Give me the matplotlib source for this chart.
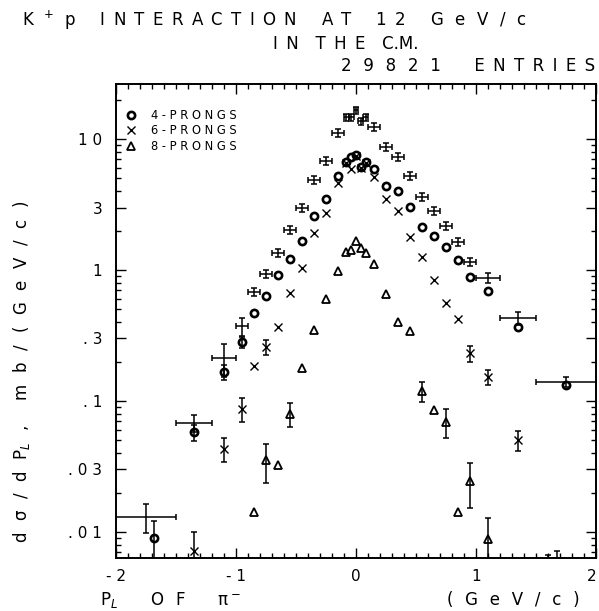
import numpy as np
import matplotlib
matplotlib.use("Agg")
import matplotlib.pyplot as plt
from matplotlib.ticker import FixedLocator, LogLocator, MultipleLocator, NullFormatter
from matplotlib.lines import Line2D

# all prongs (error crosses)
total_x = [-1.75, -1.35, -1.10, -0.95, -0.85, -0.75, -0.65, -0.55, -0.45, -0.35,
           -0.25, -0.15, -0.08, -0.04, 0.0, 0.04, 0.08, 0.15, 0.25, 0.35,
           0.45, 0.55, 0.65, 0.75, 0.85, 0.95, 1.10, 1.35, 1.75]
total_y = [0.013, 0.068, 0.213, 0.374, 0.68, 0.93, 1.35, 2.02, 2.97, 4.87,
           6.8, 11.1, 14.7, 14.7, 16.6, 13.7, 14.7, 12.3, 8.7, 7.3,
           5.2, 3.6, 2.82, 2.17, 1.64, 1.15, 0.87, 0.43, 0.14]
total_xerr = [0.25, 0.15, 0.10, 0.05, 0.05, 0.05, 0.05, 0.05, 0.05, 0.05,
              0.05, 0.05, 0.02, 0.02, 0.02, 0.02, 0.02, 0.05, 0.05, 0.05,
              0.05, 0.05, 0.05, 0.05, 0.05, 0.05, 0.10, 0.15, 0.25]
total_rel = [0.25, 0.15, 0.28, 0.16, 0.07, 0.07, 0.07, 0.07, 0.07, 0.07,
             0.07, 0.07, 0.06, 0.06, 0.06, 0.06, 0.06, 0.07, 0.07, 0.07,
             0.07, 0.07, 0.07, 0.07, 0.07, 0.07, 0.09, 0.11, 0.09]

# 4-prongs
p4_x = [-1.68, -1.35, -1.10, -0.95, -0.85, -0.75, -0.65, -0.55, -0.45, -0.35,
        -0.25, -0.15, -0.08, -0.04, 0.0, 0.04, 0.08, 0.15, 0.25, 0.35,
        0.45, 0.55, 0.65, 0.75, 0.85, 0.95, 1.10, 1.35, 1.75]
p4_y = [0.009, 0.058, 0.166, 0.28, 0.47, 0.63, 0.92, 1.21, 1.66, 2.58,
        3.48, 5.2, 6.7, 7.3, 7.55, 6.1, 6.7, 5.9, 4.4, 4.0,
        3.03, 2.13, 1.82, 1.5, 1.19, 0.885, 0.69, 0.367, 0.132]
p4_rel = [0.35, 0.14, 0.13, 0.10, 0, 0, 0, 0, 0, 0,
          0, 0, 0, 0, 0, 0, 0, 0, 0, 0,
          0, 0, 0, 0, 0, 0, 0, 0, 0]

# 6-prongs
p6_x = [-1.35, -1.10, -0.95, -0.85, -0.75, -0.65, -0.55, -0.45, -0.35, -0.25,
        -0.15, -0.08, -0.04, 0.0, 0.04, 0.08, 0.15, 0.25, 0.35, 0.45,
        0.55, 0.65, 0.75, 0.85, 0.95, 1.10, 1.35]
p6_y = [0.0071, 0.043, 0.087, 0.185, 0.258, 0.37, 0.67, 1.03, 1.91, 2.72,
        4.6, 6.6, 5.9, 7.4, 6.0, 6.6, 5.1, 3.48, 2.82, 1.79,
        1.26, 0.84, 0.56, 0.42, 0.232, 0.152, 0.05]
p6_rel = [0.40, 0.21, 0.21, 0, 0.13, 0, 0, 0, 0, 0,
          0, 0, 0, 0, 0, 0, 0, 0, 0, 0,
          0, 0, 0, 0, 0.14, 0.13, 0.17]

# 8-prongs
p8_x = [-0.85, -0.75, -0.65, -0.55, -0.45, -0.35, -0.25, -0.15, -0.08, -0.04,
        0.0, 0.04, 0.08, 0.15, 0.25, 0.35, 0.45, 0.55, 0.65, 0.75,
        0.85, 0.95, 1.10]
p8_y = [0.0142, 0.0355, 0.0324, 0.080, 0.179, 0.348, 0.60, 0.98, 1.37, 1.42,
        1.66, 1.47, 1.35, 1.11, 0.66, 0.40, 0.342, 0.119, 0.085, 0.069,
        0.0142, 0.0245, 0.00885]
p8_rel = [0, 0.33, 0, 0.21, 0, 0, 0, 0, 0, 0,
          0, 0, 0, 0, 0, 0, 0, 0.18, 0, 0.25,
          0, 0.38, 0.45]

# points below the scale, only the top of the error bar shows
off_x = [1.60, 1.675]
off_top = [0.0067, 0.0071]

ytick_vals = [0.01, 0.03, 0.1, 0.3, 1, 3, 10]
ytick_labels = [". 0 1", ". 0 3", ". 1", ". 3", "1", "3", "1 0"]
xtick_vals = [-2, -1, 0, 1, 2]
xtick_labels = ["- 2", "- 1", "0", "1", "2"]

S = "\u2002"       # letter gap, plotter style lettering
SW = "\u2002\u2009"  # a bit wider letter gap
W = S * 3          # word gap


def spaced(*words, gap=S, wgap=W):
    return wgap.join(gap.join(w) for w in words)


fig = plt.figure(figsize=(5.99, 6.11), dpi=100)
ax = fig.add_axes([116 / 599, 1 - 558 / 611, 480 / 599, 474 / 611])
ax.set_yscale("log")
ax.set_xlim(-2, 2)
ax.set_ylim(0.00633, 26.3)

eb = dict(fmt="none", ecolor="black", elinewidth=1.1, capsize=2.3, capthick=1.1)

ty = np.array(total_y)
ax.errorbar(total_x, ty, xerr=total_xerr, yerr=ty * np.array(total_rel), **eb)


def draw_series(xs, ys, rel, marker, ms, mew, mfc="none"):
    xs, ys, rel = np.array(xs), np.array(ys), np.array(rel)
    m = rel > 0
    ax.errorbar(xs[m], ys[m], yerr=ys[m] * rel[m], **eb)
    ax.plot(xs, ys, linestyle="none", marker=marker, ms=ms, mew=mew,
            mec="black", mfc=mfc)


draw_series(p4_x, p4_y, p4_rel, "o", 5.2, 1.9)
draw_series(p6_x, p6_y, p6_rel, "x", 5.5, 1.0)
draw_series(p8_x, p8_y, p8_rel, "^", 6.0, 1.3)

off_top = np.array(off_top)
ax.errorbar(off_x, off_top, yerr=[off_top - 0.004, np.zeros(len(off_top))], **eb)

# axes styling
for s in ax.spines.values():
    s.set_linewidth(1.4)
ax.set_xticks(xtick_vals)
ax.set_xticklabels(xtick_labels)
ax.get_xticklabels()[-1].set_horizontalalignment("right")
ax.xaxis.set_minor_locator(MultipleLocator(0.1))
ax.yaxis.set_major_locator(FixedLocator(ytick_vals))
ax.set_yticklabels(ytick_labels)
ax.yaxis.set_minor_locator(LogLocator(base=10, subs=np.arange(2, 10)))
ax.yaxis.set_minor_formatter(NullFormatter())
ax.tick_params(which="both", direction="in", top=True, right=True,
               labelsize=11, width=1.0)
ax.tick_params(which="major", length=7)
ax.tick_params(which="minor", length=3.5)
ax.tick_params(axis="y", pad=10)
ax.tick_params(axis="x", pad=8)

# legend
handles = [
    Line2D([], [], ls="none", marker="o", ms=5.2, mew=1.9, mec="black", mfc="none"),
    Line2D([], [], ls="none", marker="x", ms=5.5, mew=1.0, mec="black"),
    Line2D([], [], ls="none", marker="^", ms=6.0, mew=1.3, mec="black", mfc="none"),
]
ax.legend(handles, ["4 - P R O N G S", "6 - P R O N G S", "8 - P R O N G S"],
          loc="upper left", bbox_to_anchor=(-0.003, 0.97), frameon=False,
          fontsize=8.3, handlelength=1.0, handletextpad=1.3, labelspacing=0.25)

# titles and axis labels
fs = 12
fig.text(22 / 599, 1 - 20 / 611,
         "K" + S + "$^+$" + S + "p" + W + spaced("INTERACTION", "AT", "12")
         + W + spaced("GeV/c", gap=SW),
         fontsize=fs, va="center", ha="left")
fig.text(273 / 599, 1 - 44 / 611, spaced("IN", "THE", wgap=S * 2) + S * 2 + "C.M.",
         fontsize=fs, va="center", ha="left")
fig.text(595 / 599, 1 - 66 / 611,
         spaced("29821", gap=SW) + W + S + spaced("ENTRIES"),
         fontsize=fs, va="center", ha="right")
fig.text(22 / 599, 1 - 372 / 611,
         spaced("dσ/dP", gap=SW) + "$_L$" + SW + "," + W + spaced("mb/(GeV/c)", gap=SW),
         fontsize=fs, rotation=90, va="center", ha="center")
fig.text(100 / 599, 1 - 600 / 611, "P$_L$" + W + S + spaced("OF", gap=SW) + W + S + "π$^-$",
         fontsize=fs, va="center", ha="left")
fig.text(580 / 599, 1 - 600 / 611, spaced("(GeV/c)", gap=SW),
         fontsize=fs, va="center", ha="right")

fig.savefig("out.png", dpi=100)
